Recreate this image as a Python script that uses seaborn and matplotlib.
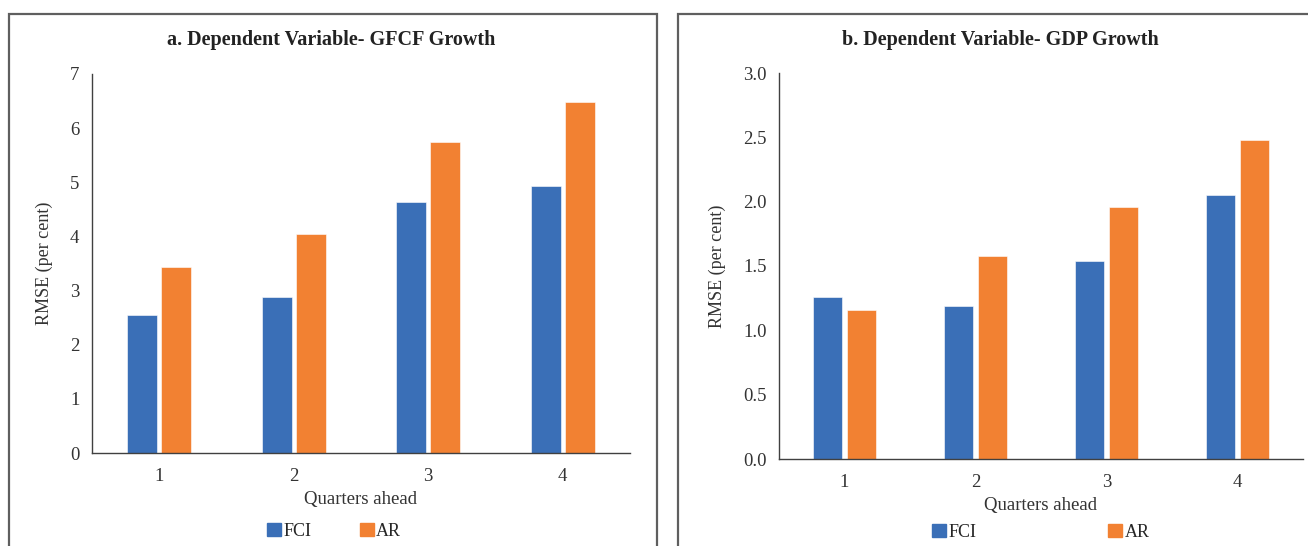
import matplotlib
matplotlib.use("Agg")
import matplotlib.pyplot as plt
import matplotlib.patches as mpatches
import numpy as np
import pandas as pd
import seaborn as sns

# data
quarters = ["1", "2", "3", "4"]
models = ["FCI", "AR"]
gfcf_fci = [2.55, 2.88, 4.63, 4.93]
gfcf_ar = [3.43, 4.05, 5.75, 6.48]
gdp_fci = [1.26, 1.19, 1.54, 2.05]
gdp_ar = [1.16, 1.58, 1.96, 2.48]

colors = {"FCI": "#3A6FB7", "AR": "#F28132"}


def long_frame(fci, ar):
    rows = []
    for q, v in zip(quarters, fci):
        rows.append({"quarter": q, "model": "FCI", "rmse": v})
    for q, v in zip(quarters, ar):
        rows.append({"quarter": q, "model": "AR", "rmse": v})
    return pd.DataFrame(rows)


sns.set_style("white")
plt.rcParams["font.family"] = ["Liberation Serif", "DejaVu Serif"]

fig = plt.figure(figsize=(13.08, 5.46), dpi=100)

# panel frames
W, H = 1308, 546
fig.patches.append(mpatches.Rectangle((9 / W, -0.02), 648 / W, (546 - 14) / H + 0.02,
                                      transform=fig.transFigure, fill=False,
                                      edgecolor="#5f5f5f", linewidth=1.6))
fig.patches.append(mpatches.Rectangle((678 / W, -0.02), 0.5, (546 - 14) / H + 0.02,
                                      transform=fig.transFigure, fill=False,
                                      edgecolor="#5f5f5f", linewidth=1.6))

ax1 = fig.add_axes([92 / W, (H - 453) / H, 538 / W, 379 / H])
ax2 = fig.add_axes([779 / W, (H - 459) / H, 524 / W, 386 / H])

# (axes, data, title, ymax, yticks, tick format, title x, legend anchor, legend column spacing)
panels = [
    (ax1, long_frame(gfcf_fci, gfcf_ar), "a. Dependent Variable- GFCF Growth", 7, np.arange(0, 8, 1), "%d",
     331, (0.45, -0.165), 2.7),
    (ax2, long_frame(gdp_fci, gdp_ar), "b. Dependent Variable- GDP Growth", 3.0, np.arange(0, 3.01, 0.5), "%.1f",
     1000, (0.5, -0.15), 7.3),
]

for ax, df, title, ymax, yticks, fmt, title_x, leg_anchor, leg_sep in panels:
    sns.barplot(data=df, x="quarter", y="rmse", hue="model", hue_order=models,
                palette=colors, saturation=1, width=0.51, gap=0.13, ax=ax, legend=False,
                edgecolor="white", linewidth=0.4)
    ax.set_xlim(-0.5, 3.5)
    ax.set_ylim(0, ymax)
    ax.set_yticks(yticks)
    ax.yaxis.set_major_formatter(matplotlib.ticker.FormatStrFormatter(fmt))
    ax.set_xticks(range(4))
    ax.set_xticklabels(quarters)
    ax.set_xticks(np.arange(-0.5, 4, 1), minor=True)
    ax.tick_params(axis="x", which="major", length=0, pad=11, labelsize=13.5, colors="#333333")
    ax.tick_params(axis="x", which="minor", length=5, width=1, color="#404040", direction="out")
    ax.tick_params(axis="y", length=5, width=1, color="#404040", direction="out", pad=4,
                   labelsize=13.5, labelcolor="#333333")
    for s in ["top", "right"]:
        ax.spines[s].set_visible(False)
    for s in ["left", "bottom"]:
        ax.spines[s].set_color("#404040")
        ax.spines[s].set_linewidth(1)
    ax.set_xlabel("Quarters ahead", fontsize=13.5, color="#333333", labelpad=4)
    ax.set_ylabel("RMSE (per cent)", fontsize=13, color="#333333", labelpad=12)
    fig.text(title_x / W, (H - 40) / H, title, ha="center", va="center",
             fontsize=14.5, fontweight="bold", color="#222222")

    handles = [mpatches.Patch(color=colors[m], label=m) for m in models]
    ax.legend(handles=handles, loc="upper center", bbox_to_anchor=leg_anchor, ncol=2,
              frameon=False, fontsize=13, handlelength=0.75, handleheight=0.75,
              handletextpad=0.15, columnspacing=leg_sep, borderaxespad=0)

fig.savefig("out.png", dpi=100)
